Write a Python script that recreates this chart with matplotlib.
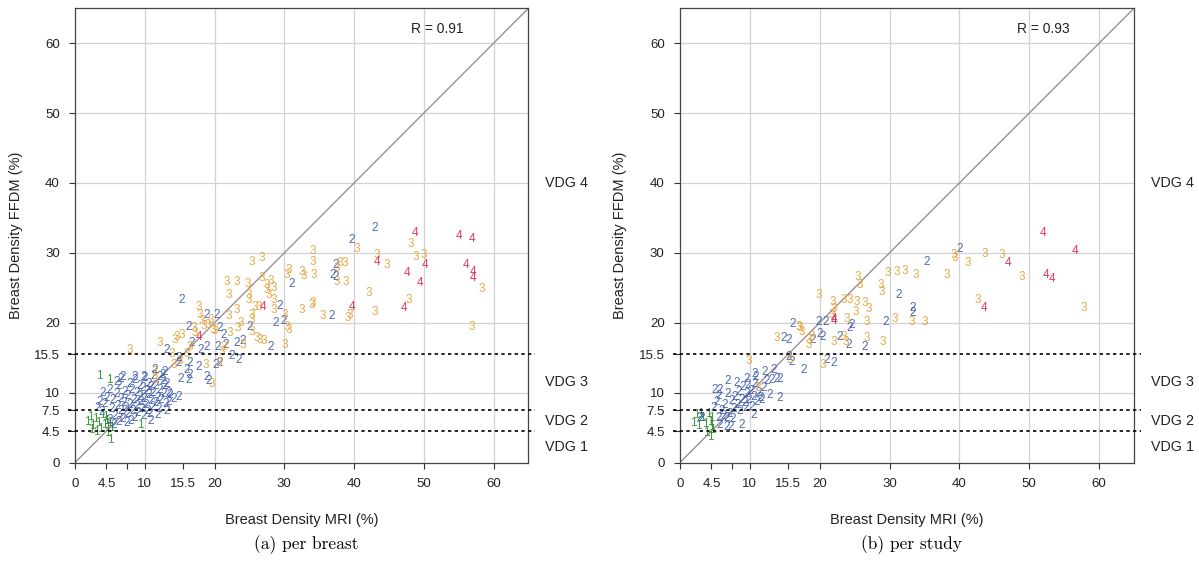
import matplotlib
matplotlib.use("Agg")
import matplotlib.pyplot as plt

# (MRI %, FFDM %) pairs, grouped by the printed digit
breast_1 = [(1.8, 5.8), (2.2, 6.5), (2.5, 5.2), (2.9, 6.2), (3.3, 5.6), (3.6, 4.8), (3.9, 6.8),
            (4.2, 5.4), (4.5, 6.0), (4.7, 5.0), (4.9, 5.7), (5.2, 4.9), (3.0, 4.4), (4.6, 4.2),
            (2.3, 4.6), (4.4, 6.5), (5.1, 3.2), (3.5, 12.4), (4.9, 11.8), (9.4, 5.3)]
breast_2 = [(43.0, 33.6), (39.7, 31.8), (37.3, 28.2), (37.3, 26.5), (36.8, 20.9), (31.1, 25.6),
            (36.9, 26.9), (29.4, 22.4), (28.8, 20.0), (29.9, 20.3), (25.1, 19.4), (15.3, 23.2),
            (18.9, 21.1), (20.3, 21.1), (16.3, 19.4), (20.8, 19.2), (21.3, 18.2), (16.7, 17.1),
            (18.9, 16.6), (23.2, 17.1), (24.0, 17.4), (28.0, 16.6), (13.2, 16.1), (14.8, 14.9),
            (14.8, 14.2), (18.0, 16.1), (20.4, 16.6), (21.6, 16.8), (22.4, 15.2), (23.4, 14.7),
            (16.5, 14.2), (16.0, 13.2), (16.5, 12.5), (16.3, 11.8), (15.1, 12.0), (18.9, 12.3),
            (19.1, 11.6), (17.7, 13.7), (20.2, 14.0), (20.7, 14.3), (6.5, 11.9), (8.6, 12.3),
            (9.8, 12.3), (12.9, 13.0), (12.2, 12.3), (13.1, 11.3), (13.4, 9.9), (14.8, 9.4),
            (13.4, 8.7), (10.8, 6.0), (11.4, 13.2),
            (3.8, 7.2), (4.3, 8.4), (4.6, 9.3), (4.9, 10.4), (5.2, 7.6), (5.4, 8.9), (5.7, 6.6),
            (5.9, 9.8), (6.1, 8.1), (6.3, 10.9), (6.5, 7.3), (6.6, 9.1), (6.8, 6.2), (7.0, 8.5),
            (7.1, 10.1), (7.3, 7.8), (7.5, 9.5), (7.6, 6.9), (7.8, 11.2), (7.9, 8.3), (8.1, 10.4),
            (8.2, 7.4), (8.4, 9.0), (8.5, 6.4), (8.6, 11.8), (8.8, 8.1), (8.9, 10.0), (9.0, 7.1),
            (9.2, 9.4), (9.3, 11.0), (9.4, 8.6), (9.6, 7.7), (9.7, 10.6), (9.8, 9.1), (10.0, 12.1),
            (10.1, 8.2), (10.2, 10.2), (10.4, 7.3), (10.5, 9.6), (10.6, 11.3), (10.8, 8.8),
            (10.9, 10.8), (11.1, 7.9), (11.2, 9.9), (11.3, 12.4), (11.5, 8.5), (11.6, 11.0),
            (11.8, 9.3), (12.0, 7.6), (12.1, 10.4), (12.3, 8.9), (12.5, 11.6), (12.7, 9.8),
            (13.0, 8.4), (5.0, 6.1), (4.0, 9.9), (3.5, 8.6), (6.0, 11.5), (6.9, 12.3), (5.5, 5.4),
            (6.2, 5.8), (7.4, 5.6), (8.0, 6.0), (9.9, 6.6), (10.7, 6.9), (12.9, 10.9), (13.6, 9.6),
            (14.1, 9.1), (13.2, 7.3), (11.9, 6.8), (12.6, 12.5), (3.2, 7.8)]
breast_3 = [(40.4, 30.6), (48.1, 31.2), (34.1, 30.3), (34.1, 28.7), (25.3, 28.7), (26.8, 29.2),
            (38.7, 28.6), (38.0, 28.6), (37.5, 27.9), (37.5, 25.9), (38.8, 25.9), (43.2, 29.7),
            (44.7, 28.3), (48.8, 29.4), (50.0, 29.7), (58.3, 24.9), (42.1, 24.2), (47.8, 23.2),
            (43.0, 21.6), (39.4, 21.1), (56.9, 19.4), (35.5, 21.0), (34.1, 22.8), (32.5, 21.8),
            (30.3, 26.8), (30.7, 27.5), (32.5, 27.3), (32.8, 26.7), (34.2, 26.8), (30.1, 21.1),
            (30.4, 19.4), (30.6, 18.9), (28.5, 21.8), (21.8, 25.9), (23.2, 25.9), (22.1, 24.0),
            (24.7, 25.6), (24.9, 24.0), (24.9, 23.3), (26.8, 26.4), (27.5, 25.4), (28.0, 26.0),
            (28.5, 25.0), (27.5, 24.7), (27.8, 24.0), (28.5, 23.2), (25.8, 22.2), (26.3, 22.2),
            (25.3, 21.1), (25.3, 20.4), (23.2, 21.8), (22.0, 20.9), (23.7, 19.9), (23.4, 19.2),
            (25.3, 18.7), (17.7, 22.3), (17.9, 21.1), (19.4, 20.4), (19.1, 19.7), (17.0, 19.2),
            (18.5, 19.5), (19.8, 19.0), (18.2, 20.2), (17.2, 18.6), (20.0, 18.8), (22.2, 18.5),
            (14.6, 18.0), (15.3, 18.2), (12.2, 17.1), (14.3, 17.5), (21.3, 16.6), (24.1, 16.8),
            (26.1, 17.8), (26.5, 17.5), (27.1, 17.4), (30.1, 16.8), (7.9, 16.1), (13.9, 15.5),
            (16.5, 16.6), (16.0, 15.5), (21.0, 15.8), (20.6, 14.2), (19.6, 11.3), (11.5, 13.0),
            (11.5, 11.8), (14.2, 14.0), (15.0, 14.5), (18.8, 14.0), (33.9, 22.5), (39.1, 20.7)]
breast_4 = [(48.8, 32.9), (55.0, 32.4), (56.9, 32.0), (43.3, 28.7), (50.2, 28.2), (47.6, 27.1),
            (56.0, 28.3), (57.1, 27.3), (57.1, 26.4), (49.4, 25.7), (47.1, 22.1), (39.7, 22.2),
            (26.9, 22.2), (17.8, 18.0)]

study_1 = [(1.9, 5.6), (2.3, 6.8), (2.7, 5.2), (3.2, 6.3), (3.6, 5.5), (3.8, 4.2), (4.1, 6.9),
           (4.3, 5.8), (4.5, 6.4), (4.5, 5.1), (4.6, 4.7), (2.9, 7.0), (4.4, 3.6)]
study_2 = [(40.1, 30.6), (35.3, 28.7), (31.3, 24.0), (24.6, 19.7), (24.3, 19.2), (29.4, 20.1),
           (33.3, 22.1), (33.3, 21.4), (16.2, 19.8), (19.8, 20.1), (20.8, 20.1), (14.8, 17.8),
           (15.5, 17.5), (20.0, 18.4), (20.4, 18.0), (22.8, 18.0), (26.5, 16.6), (10.7, 12.7),
           (12.2, 13.0), (13.4, 13.2), (12.4, 11.6), (13.1, 11.8), (13.8, 12.0), (14.3, 12.0),
           (6.9, 11.6), (5.0, 10.4), (5.7, 10.4), (12.9, 9.7), (14.3, 9.2), (11.7, 8.9),
           (15.5, 15.1), (16.0, 14.4), (17.7, 13.2), (21.0, 14.7), (22.0, 14.2), (19.0, 17.5),
           (24.1, 16.8),
           (2.8, 6.3), (3.1, 6.3), (5.5, 6.3), (6.7, 6.3), (5.7, 5.4), (6.7, 5.1), (7.2, 5.1),
           (8.8, 5.4), (10.5, 6.8), (4.8, 7.8), (5.3, 8.6), (5.6, 9.5), (6.0, 7.4), (6.4, 8.3),
           (6.8, 9.8), (7.1, 7.0), (7.4, 8.8), (7.7, 7.7), (7.9, 9.4), (8.2, 8.2), (8.4, 10.1),
           (8.6, 7.4), (8.8, 9.0), (9.0, 10.8), (9.2, 8.5), (9.4, 7.8), (9.5, 9.8), (9.7, 11.1),
           (9.9, 8.9), (10.1, 10.3), (10.3, 7.9), (10.5, 9.4), (10.7, 11.3), (11.0, 8.6),
           (11.2, 10.0), (11.5, 9.2), (12.0, 10.7), (6.2, 6.6), (7.6, 6.2), (8.1, 11.4),
           (9.6, 12.0), (10.9, 12.2)]
study_3 = [(39.2, 29.7), (39.4, 29.2), (43.7, 29.9), (46.1, 29.7), (41.2, 28.5), (38.2, 26.8),
           (29.8, 27.1), (31.0, 27.3), (32.2, 27.4), (33.8, 26.8), (48.9, 26.5), (42.6, 23.3),
           (57.8, 22.1), (25.4, 26.6), (25.8, 25.4), (28.7, 25.4), (28.9, 24.4), (19.9, 24.0),
           (21.9, 23.0), (22.0, 22.0), (21.7, 21.1), (23.4, 23.2), (24.3, 23.2), (25.3, 23.0),
           (26.5, 22.8), (27.0, 22.0), (25.1, 21.6), (23.9, 20.6), (26.8, 20.1), (30.7, 20.6),
           (33.2, 20.1), (35.1, 20.1), (17.2, 19.2), (17.4, 18.7), (13.8, 17.8), (18.9, 18.0),
           (18.4, 16.8), (23.5, 18.0), (23.8, 17.2), (26.8, 17.8), (29.1, 17.3), (9.9, 14.5),
           (15.7, 14.6), (20.5, 13.9), (18.4, 17.5), (17.0, 19.4), (22.0, 17.3), (11.2, 10.6)]
study_4 = [(52.0, 32.8), (56.6, 30.2), (46.9, 28.6), (52.4, 26.8), (53.3, 26.3), (43.5, 22.1),
           (22.0, 20.6), (22.1, 20.3)]

r_values = ["R = 0.91", "R = 0.93"]
captions = ["(a) per breast", "(b) per study"]
cut_offs = [4.5, 7.5, 15.5]
vdg_labels = [("VDG 4", 40), ("VDG 3", 11.5), ("VDG 2", 6), ("VDG 1", 2.25)]
ticks = [0, 4.5, 7.5, 10, 15.5, 20, 30, 40, 50, 60]
xticklabels = ["0", "4.5", "", "10", "15.5", "20", "30", "40", "50", "60"]
grid_vals = [10, 20, 30, 40, 50, 60]

colors = {1: "#2f8f2f", 2: "#3a5aaa", 3: "#e6a035", 4: "#e0234f"}
sans = "Liberation Sans"

fig = plt.figure(figsize=(11.99, 5.65), dpi=100)
ax1 = fig.add_axes([0.0626, 0.1814, 0.3781, 0.8039])
ax2 = fig.add_axes([0.5671, 0.1814, 0.3787, 0.8039])

panels = [(ax1, [breast_1, breast_2, breast_3, breast_4]),
          (ax2, [study_1, study_2, study_3, study_4])]

for i, (ax, groups) in enumerate(panels):
    ax.set_xlim(0, 65)
    ax.set_ylim(0, 65)
    for v in grid_vals:
        ax.axvline(v, color="#d2d2d2", lw=0.9, zorder=0)
        ax.axhline(v, color="#d2d2d2", lw=0.9, zorder=0)
    ax.plot([0, 65], [0, 65], color="#9c9090", lw=1.0, zorder=1)
    for c in cut_offs:
        ax.plot([-1, 66], [c, c], color="black", lw=1.2, ls=(0, (2, 2)),
                clip_on=False, zorder=3)

    for k, pts in enumerate(groups):
        for x, y in pts:
            ax.text(x, y, str(k + 1), color=colors[k + 1], fontsize=8.5, family=sans,
                    ha="center", va="center", alpha=0.9, zorder=2)

    ax.set_xticks(ticks)
    ax.set_xticklabels(xticklabels)
    ax.set_yticks(ticks)
    ax.set_yticklabels([str(t) if t != int(t) else str(int(t)) for t in ticks])
    ax.tick_params(direction="out", length=4, width=0.8, color="#333333",
                   labelsize=9.5, labelcolor="#222222", pad=7)
    for lab in ax.get_xticklabels() + ax.get_yticklabels():
        lab.set_family(sans)
    for s in ax.spines.values():
        s.set_color("#444444")
        s.set_linewidth(0.9)

    ax.text(52, 62, r_values[i], fontsize=10, family=sans, ha="center", va="center",
            color="#222222")
    for lab, yv in vdg_labels:
        ax.text(67.4, yv, lab, fontsize=10.3, family=sans, ha="left", va="center",
                color="#222222", clip_on=False)

    ax.text(0.5, -0.127, "Breast Density MRI (%)", transform=ax.transAxes,
            fontsize=10.5, family=sans, ha="center", va="center", color="#222222")
    ax.text(-0.131, 0.5, "Breast Density FFDM (%)", transform=ax.transAxes, rotation=90,
            fontsize=10.5, family=sans, ha="center", va="center", color="#222222")
    ax.text(0.51, -0.18, captions[i], transform=ax.transAxes, fontsize=12.5,
            family="cmr10", ha="center", va="center", color="black")

fig.savefig("out.png", dpi=100)
